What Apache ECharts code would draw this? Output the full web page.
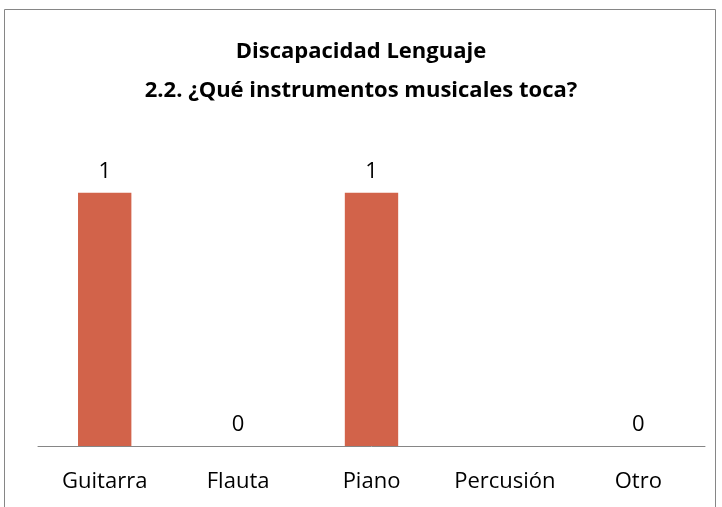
<!DOCTYPE html>
<html>
<head>
<meta charset="utf-8">
<script src="https://cdn.jsdelivr.net/npm/echarts@6/dist/echarts.min.js"></script>
<style>
  html, body { margin: 0; padding: 0; background: #fff; }
  #chart { width: 722px; height: 507px; }
</style>
</head>
<body>
<div id="chart"></div>
<script>
const categories = ['Guitarra', 'Flauta', 'Piano', 'Percusión', 'Otro'];
// Percusión has no value in the original (no label shown)
const values = [1, 0, 1, '-', 0];
const titleLines = ['Discapacidad Lenguaje', '2.2. ¿Qué instrumentos musicales toca?'];

const chart = echarts.init(document.getElementById('chart'));

const option = {
  animation: false,
  textStyle: { fontFamily: 'Open Sans' },
  graphic: [
    {
      type: 'rect',
      shape: { x: 4.5, y: 9.5, width: 711, height: 600 },
      style: { fill: 'none', stroke: '#868686', lineWidth: 1 },
      silent: true
    }
  ],
  title: {
    text: titleLines.join('\n'),
    left: 'center',
    top: 27,
    textStyle: {
      fontFamily: 'Open Sans',
      fontWeight: 'bold',
      fontSize: 22,
      lineHeight: 39,
      color: '#000'
    }
  },
  grid: { left: 38, right: 17, top: 142, bottom: 61 },
  xAxis: {
    type: 'category',
    data: categories,
    axisLine: { lineStyle: { color: '#868686', width: 1 } },
    axisTick: { show: false },
    axisLabel: { color: '#000', fontSize: 22, margin: 25, interval: 0, hideOverlap: false }
  },
  yAxis: {
    type: 'value',
    min: 0,
    max: 1.2,
    show: false,
    splitLine: { show: false }
  },
  series: [
    {
      type: 'bar',
      data: values,
      barWidth: '40%',
      itemStyle: { color: '#D2634A' },
      label: {
        show: true,
        position: 'top',
        distance: 10,
        color: '#000',
        fontSize: 22
      }
    }
  ]
};

chart.setOption(option);
</script>
</body>
</html>
